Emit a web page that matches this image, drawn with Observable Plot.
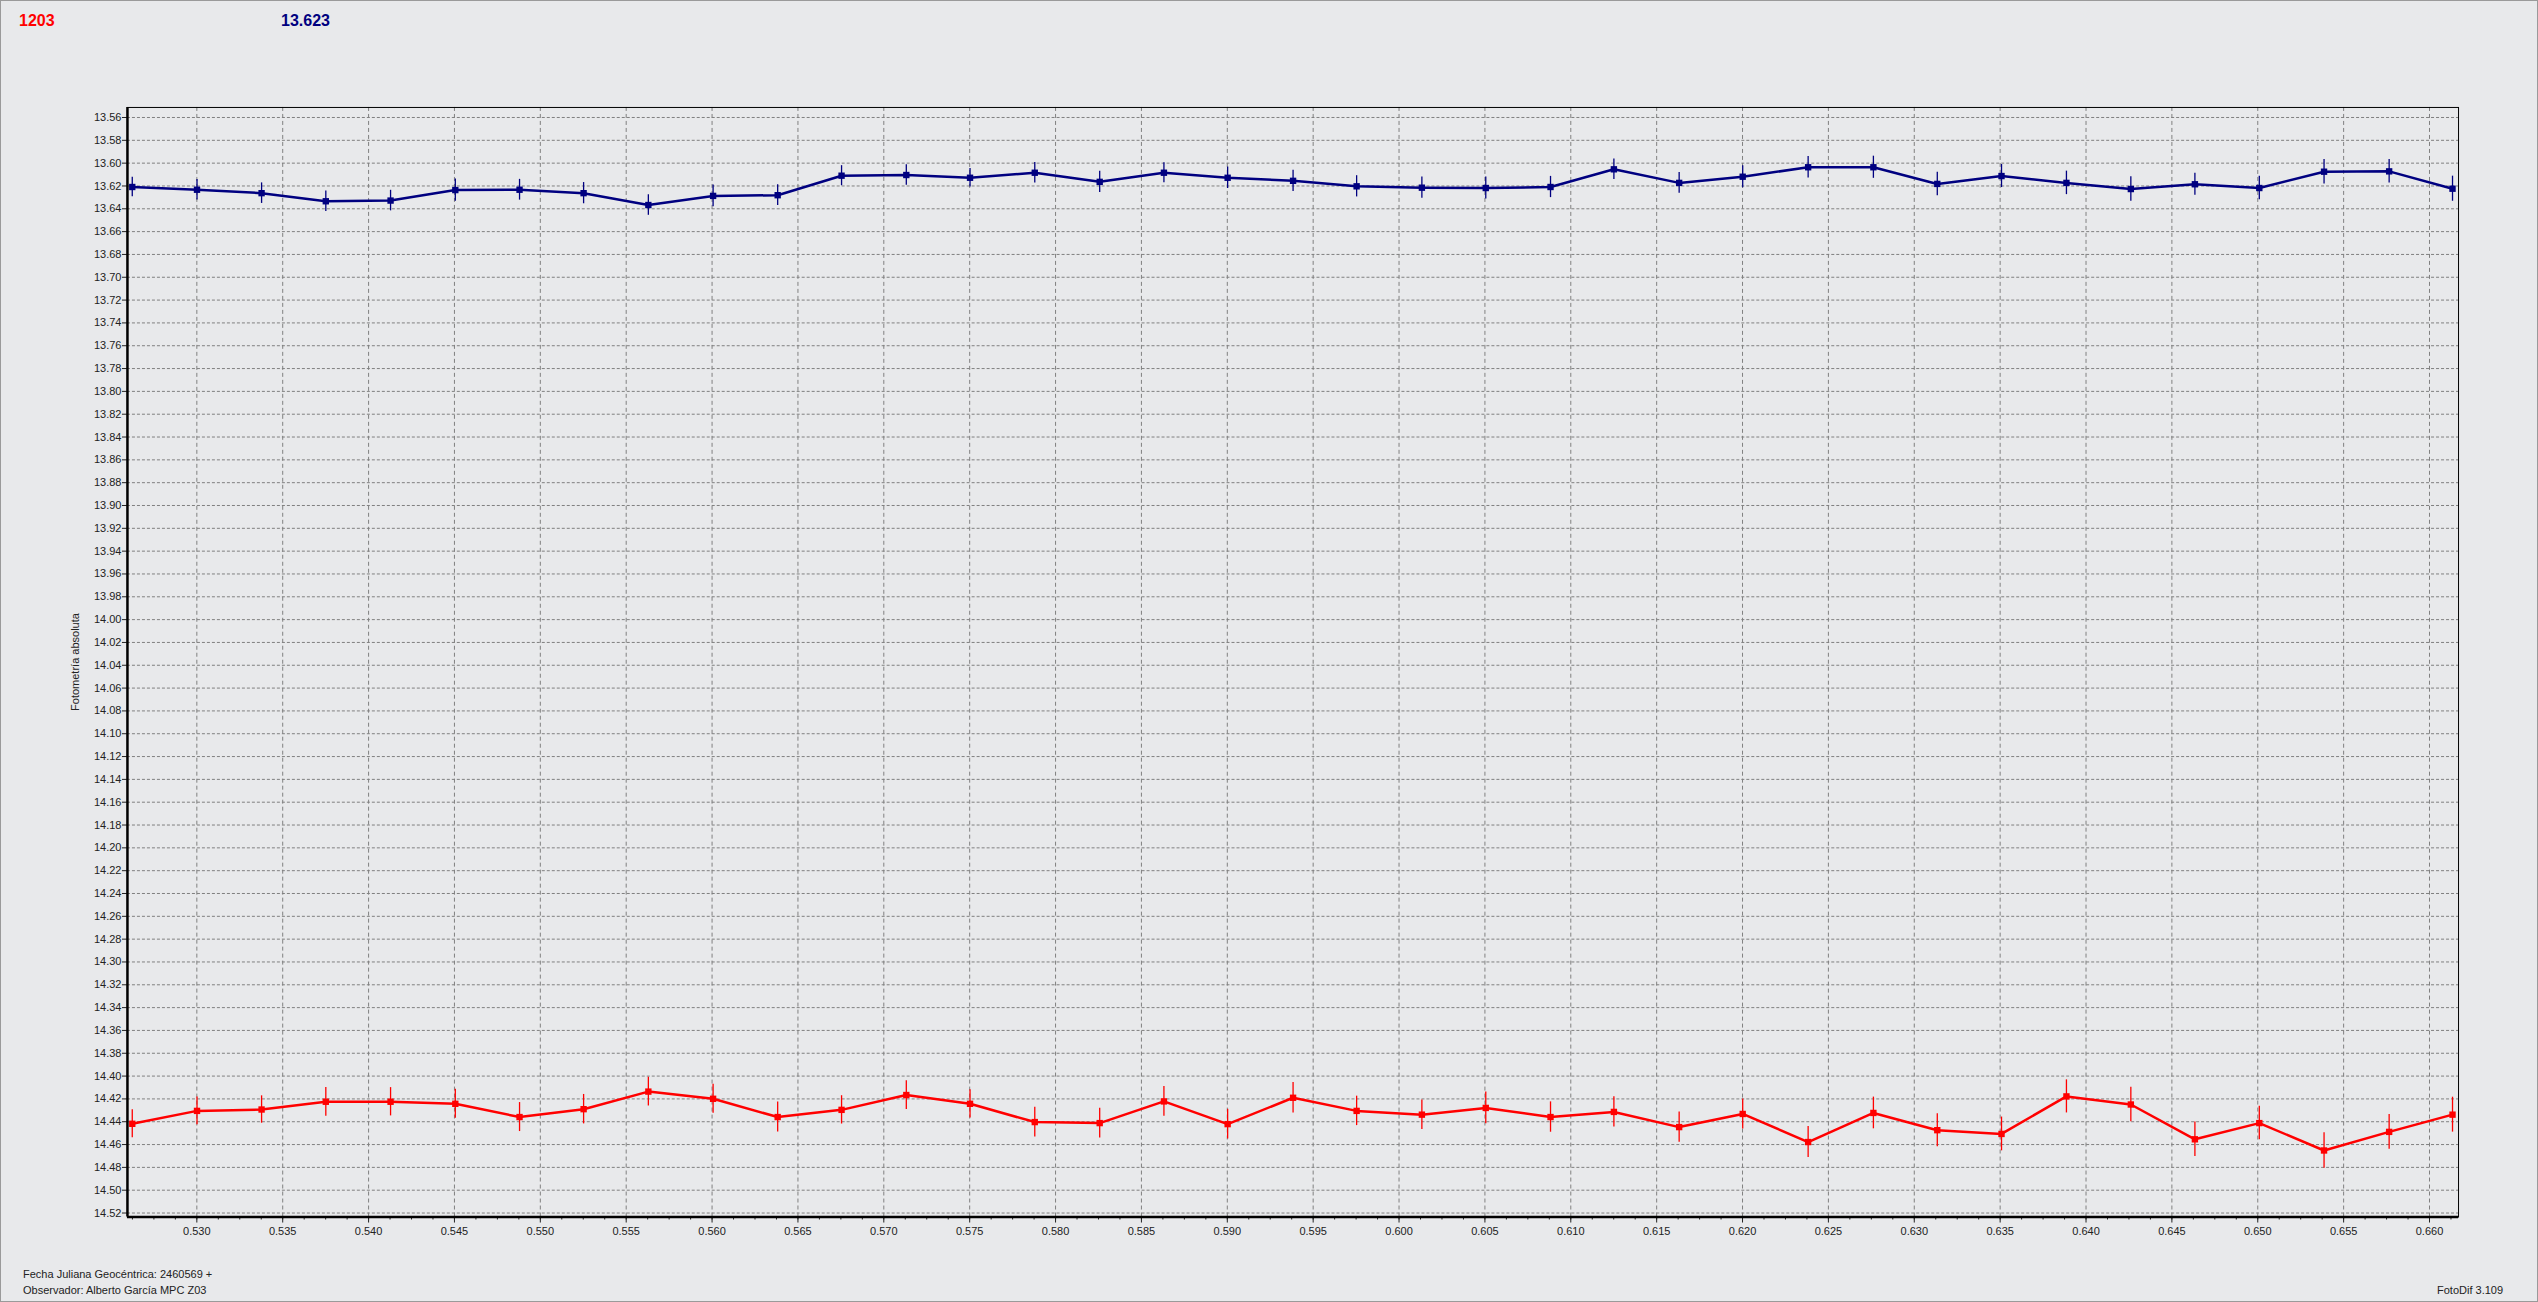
<!DOCTYPE html>
<html><head><meta charset="utf-8">
<script src="https://cdn.jsdelivr.net/npm/d3@7"></script>
<script src="https://cdn.jsdelivr.net/npm/@observablehq/plot@0.6"></script>
<style>
html,body{margin:0;padding:0;background:#e8e9eb;overflow:hidden;}
#page{position:relative;width:2538px;height:1302px;box-sizing:border-box;border:1px solid #9a9a9a;overflow:hidden;font-family:Arial,"Liberation Sans",sans-serif;background:#e8e9eb;}
.t{position:absolute;white-space:nowrap;}
#chart{position:absolute;left:-1px;top:-1px;}
</style></head><body><div id="page">
<div id="chart"></div>
<div class="t" style="left:18px;top:12px;font:bold 16px Arial,'Liberation Sans',sans-serif;line-height:16px;color:#ff0000">1203</div>
<div class="t" style="left:280px;top:12px;font:bold 16px Arial,'Liberation Sans',sans-serif;line-height:16px;color:#000080">13.623</div>
<div class="t" style="left:74px;top:661px;font-size:11px;line-height:11px;color:#222;transform:translate(-50%,-50%) rotate(-90deg)">Fotometría absoluta</div>
<div class="t" style="left:22px;top:1268px;font-size:11px;line-height:11px;color:#222">Fecha Juliana Geocéntrica: 2460569 +</div>
<div class="t" style="left:22px;top:1284px;font-size:11px;line-height:11px;color:#222">Observador: Alberto García MPC Z03</div>
<div class="t" style="left:2436px;top:1284px;font-size:11px;line-height:11px;color:#222">FotoDif 3.109</div>
</div>
<script>
// Julian-date fraction of each observation
const jdFrac = [0.52624,0.53001,0.53377,0.53751,0.54128,0.54505,0.54879,0.55252,0.55629,0.56006,
  0.56382,0.56754,0.57131,0.57502,0.57879,0.58257,0.58631,0.59002,0.59383,0.59753,
  0.60133,0.60505,0.60882,0.61251,0.61631,0.62001,0.62382,0.62762,0.63134,0.63508,
  0.63886,0.64261,0.64634,0.65009,0.65386,0.65765,0.66134];
// comparison (blue) magnitudes and errors
const blueMag = [13.6209,13.6233,13.6263,13.6334,13.6328,13.6236,13.6233,13.6263,13.6367,13.6287,
  13.6281,13.6110,13.6104,13.6128,13.6084,13.6164,13.6084,13.6128,13.6155,13.6203,
  13.6215,13.6218,13.6209,13.6054,13.6173,13.6119,13.6036,13.6036,13.6182,13.6113,
  13.6173,13.6227,13.6185,13.6218,13.6075,13.6072,13.6224];
const blueErr = [0.0085,0.0090,0.0090,0.0090,0.0090,0.0097,0.0091,0.0093,0.0090,0.0096,
  0.0091,0.0088,0.0090,0.0082,0.0090,0.0093,0.0087,0.0094,0.0093,0.0093,
  0.0093,0.0097,0.0093,0.0090,0.0091,0.0097,0.0094,0.0097,0.0103,0.0101,
  0.0103,0.0107,0.0096,0.0103,0.0107,0.0103,0.0110];
// target 1203 (red) magnitudes and errors
const redMag = [14.4418,14.4305,14.4293,14.4225,14.4225,14.4243,14.4359,14.4290,14.4136,14.4199,
  14.4359,14.4296,14.4166,14.4243,14.4403,14.4412,14.4222,14.4421,14.4190,14.4305,
  14.4338,14.4279,14.4359,14.4314,14.4447,14.4332,14.4578,14.4323,14.4474,14.4507,
  14.4178,14.4249,14.4554,14.4412,14.4652,14.4489,14.4338];
const redErr = [0.0123,0.0121,0.0120,0.0126,0.0124,0.0127,0.0127,0.0129,0.0126,0.0127,
  0.0132,0.0124,0.0126,0.0124,0.0130,0.0130,0.0130,0.0130,0.0133,0.0129,
  0.0129,0.0139,0.0133,0.0133,0.0133,0.0132,0.0136,0.0139,0.0145,0.0148,
  0.0145,0.0151,0.0151,0.0147,0.0156,0.0153,0.0153];

const xDomain = [0.52596, 0.66169];
const yDomain = [13.5512, 14.5235];
const yTicks = d3.range(0, 49).map(i => +(13.56 + i * 0.02).toFixed(2));
const xTicks = d3.range(0, 27).map(i => +(0.530 + i * 0.005).toFixed(3));
const xMinor = d3.range(-3, 106).map(i => 0.530 + i * 0.00125).filter(v => v >= xDomain[0] && v <= xDomain[1]);

const blue = jdFrac.map((x, i) => ({x, y: blueMag[i], e: blueErr[i]}));
const red = jdFrac.map((x, i) => ({x, y: redMag[i], e: redErr[i]}));

function series(data, color) {
  return [
    Plot.line(data, {x: "x", y: "y", stroke: color, strokeWidth: 2.5}),
    Plot.ruleX(data, {x: "x", y1: d => d.y - d.e, y2: d => d.y + d.e, stroke: color, strokeWidth: 1.3}),
    Plot.dot(data, {x: "x", y: "y", symbol: "square", r: 3.6, fill: color, stroke: "none"})
  ];
}

const chart = Plot.plot({
  width: 2538, height: 1302,
  marginLeft: 127, marginRight: 79, marginTop: 107, marginBottom: 85,
  style: {background: "transparent", fontFamily: "Arial, 'Liberation Sans', sans-serif", fontSize: "11px", color: "#222", overflow: "visible"},
  x: {domain: xDomain},
  y: {domain: yDomain, reverse: true},
  marks: [
    Plot.ruleY(yTicks, {stroke: "#808080", strokeWidth: 1, strokeDasharray: "3,2"}),
    Plot.ruleX(xTicks, {stroke: "#808080", strokeWidth: 1, strokeDasharray: "4,3"}),
    Plot.axisY(yTicks, {tickSize: 5, tickPadding: 1, tickFormat: d => d.toFixed(2), label: null}),
    Plot.axisX(xTicks, {tickSize: 6, tickPadding: 4, tickFormat: d => d.toFixed(3), label: null}),
    Plot.axisX(xMinor, {tickSize: 3, tickFormat: () => "", label: null}),
    ...series(blue, "#000080"),
    ...series(red, "#ff0000"),
    Plot.frame({stroke: "#000", strokeWidth: 1}),
    Plot.ruleX([xDomain[0]], {stroke: "#000", strokeWidth: 2.5}),
    Plot.ruleY([yDomain[1]], {stroke: "#000", strokeWidth: 2.5})
  ]
});
document.getElementById("chart").appendChild(chart);
</script>
</body></html>
